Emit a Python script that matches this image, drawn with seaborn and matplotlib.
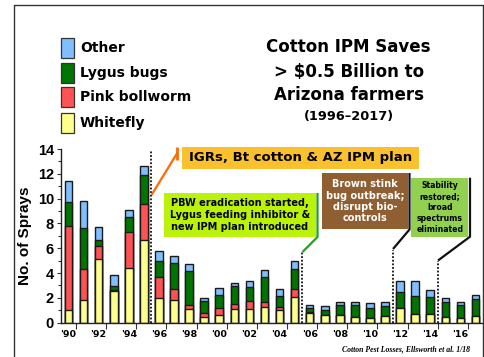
import numpy as np
import pandas as pd
import matplotlib
matplotlib.use("Agg")
import matplotlib.pyplot as plt
from matplotlib.patches import Rectangle
from matplotlib.lines import Line2D
import seaborn as sns

# Sprays per season by target pest, Arizona cotton 1990-2017
years = list(range(1990, 2018))
whitefly = [1.0, 1.8, 5.1, 2.55, 4.4, 6.65, 2.0, 1.8, 1.08, 0.45, 0.65, 1.08, 1.08, 1.3,
            1.0, 2.04, 0.8, 0.65, 0.6, 0.48, 0.4, 0.55, 1.16, 0.67, 0.7, 0.45, 0.4, 0.5]
pink_bollworm = [6.8, 2.5, 1.1, 0.1, 2.9, 2.9, 1.7, 0.95, 0.37, 0.32, 0.56, 0.4, 0.7, 0.4,
                 0.3, 0.68, 0.05, 0.0, 0.0, 0.0, 0.0, 0.0, 0.0, 0.0, 0.0, 0.0, 0.0, 0.0]
lygus = [1.95, 3.3, 0.5, 0.3, 1.25, 2.35, 1.25, 2.1, 2.75, 1.0, 1.0, 1.5, 1.1, 2.0,
         0.86, 1.6, 0.3, 0.4, 0.85, 0.97, 0.8, 0.8, 1.3, 1.48, 1.4, 1.24, 1.0, 1.42]
other = [1.7, 2.2, 1.05, 0.9, 0.5, 0.7, 0.8, 0.55, 0.5, 0.2, 0.6, 0.2, 0.5, 0.55,
         0.57, 0.67, 0.25, 0.3, 0.2, 0.2, 0.35, 0.32, 0.92, 1.24, 0.57, 0.27, 0.24, 0.3]

layer_names = ["Whitefly", "Pink bollworm", "Lygus bugs", "Other"]
layer_colors = ["#FFFF8C", "#FF5252", "#007500", "#80BFFF"]

year_labels = ["'" + str(y)[2:] for y in years]
tick_years = year_labels[::2]

# Vertical markers between seasons: (boundary index, height of marker)
marker_x = [5.5, 15.5, 21.5, 24.5]
marker_top = [13.9, 5.7, 5.85, 5.0]

df = pd.DataFrame({"year": year_labels, "Whitefly": whitefly,
                   "Pink bollworm": pink_bollworm, "Lygus bugs": lygus, "Other": other})
cum = df[layer_names].cumsum(axis=1)

W, H = 485, 357
sns.set_theme(style="white")
plt.rcParams["font.family"] = ["DejaVu Sans"]
plt.rcParams.update({"text.color": "black", "axes.labelcolor": "black",
                     "xtick.color": "black", "ytick.color": "black"})
fig = plt.figure(figsize=(W / 100, H / 100), dpi=100)


def fx(x):
    return x / W


def fy(y):
    return 1 - y / H


ax = fig.add_axes([fx(61), fy(322.7), fx(483) - fx(61), fy(149) - fy(322.7)])

# stacked bars: draw cumulative totals from the top layer down
for name, color in zip(layer_names[::-1], layer_colors[::-1]):
    sns.barplot(x=df["year"], y=cum[name], color=color, saturation=1, width=0.5,
                edgecolor="#1a1a1a", linewidth=1.0, errorbar=None, ax=ax)

ax.set_xlim(-0.5, 27.5)
ax.set_ylim(0, 14)
for s in ["top", "right"]:
    ax.spines[s].set_visible(False)
for s in ["left", "bottom"]:
    ax.spines[s].set_color("#222222")
    ax.spines[s].set_linewidth(1.0)

ax.set_xticks(np.arange(0, 28, 2))
ax.set_xticklabels(tick_years, fontsize=6.8, fontweight="bold")
ax.set_xticks(np.arange(0.5, 28, 2), minor=True)
ax.tick_params(axis="x", which="major", length=0, pad=5)
ax.tick_params(axis="x", which="minor", length=4, width=0.8, color="#333333", direction="out", bottom=True)

ax.set_yticks(np.arange(0, 15, 2))
ax.set_yticklabels([str(v) for v in range(0, 15, 2)], fontsize=10.5, fontweight="bold",
                   family="Liberation Sans")
ax.set_yticks(np.arange(1, 15, 2), minor=True)
ax.tick_params(axis="y", which="major", length=3, width=0.8, color="#333333", pad=2, left=True)
ax.tick_params(axis="y", which="minor", length=2, width=0.8, color="#333333", left=True)
ax.set_xlabel("")
ax.set_ylabel("No. of Sprays", fontsize=11, fontweight="bold", family="Liberation Sans", labelpad=4)

for xm, ym in zip(marker_x, marker_top):
    ax.plot([xm, xm], [0, ym], color="#111111", lw=1.3, ls=(0, (1, 1)), zorder=5)

# outer frame
frame_kw = dict(color="#333333", lw=1.0, transform=fig.transFigure)
fig.add_artist(Line2D([fx(14), fx(14)], [fy(5), 0], **frame_kw))
fig.add_artist(Line2D([fx(14), fx(483.3)], [fy(5), fy(5)], **frame_kw))
fig.add_artist(Line2D([fx(483.3), fx(483.3)], [fy(5), 0], **frame_kw))

# legend
legend_rows = [("Other", "#80BFFF", 48.3), ("Lygus bugs", "#007500", 72.7),
               ("Pink bollworm", "#FF5252", 97.3), ("Whitefly", "#FFFF8C", 122.7)]
for label, color, yc in legend_rows:
    fig.add_artist(Rectangle((fx(61), fy(yc + 10)), fx(13), 20 / H, transform=fig.transFigure,
                             facecolor=color, edgecolor="#333333", lw=0.9))
    fig.text(fx(80), fy(yc), label, fontsize=10, fontweight="bold", va="center", ha="left")

# title
for line, yc in [("Cotton IPM Saves", 46.7), ("> $0.5 Billion to", 71.7), ("Arizona farmers", 95.5)]:
    fig.text(fx(348.7), fy(yc), line, fontsize=12, fontweight="bold", ha="center", va="center")
fig.text(fx(349), fy(116.7), "(1996\u20132017)", fontsize=9.3, fontweight="bold", ha="center", va="center")

# callout boxes


def box(x0, y0, x1, y1, color):
    fig.add_artist(Rectangle((fx(x0), fy(y1)), fx(x1 - x0), (y1 - y0) / H,
                             transform=fig.transFigure, facecolor=color, edgecolor="none", zorder=6))


def polyline(pts, color, lw=1.6):
    fig.add_artist(Line2D([fx(p[0]) for p in pts], [fy(p[1]) for p in pts], color=color, lw=lw,
                          transform=fig.transFigure, zorder=7, solid_capstyle="butt"))


box(182, 147, 419, 168.5, "#FBC02D")
fig.text(fx(300.5), fy(157.8), "IGRs, Bt cotton & AZ IPM plan", fontsize=9.5, fontweight="bold",
         ha="center", va="center", zorder=8)
polyline([(151.5, 195), (177.3, 153)], "#FF6A00")
polyline([(177.3, 147), (177.3, 160)], "#FF6A00", lw=2)

box(164, 193, 316, 237, "#BBF20A")
fig.text(fx(240), fy(215), "PBW eradication started,\nLygus feeding inhibitor &\nnew IPM plan introduced",
         fontsize=7, fontweight="bold", ha="center", va="center", linespacing=1.2, zorder=8)
polyline([(317.5, 193), (317.5, 237), (302.5, 252)], "#23A023")

box(321.7, 173.3, 408.3, 229.3, "#8F5E31")
fig.text(fx(365), fy(201.2), "Brown stink\nbug outbreak;\ndisrupt bio-\ncontrols", color="white",
         fontsize=7, fontweight="bold", ha="center", va="center", linespacing=1.17, zorder=8)
polyline([(409.5, 173), (409.5, 229.5), (393, 249)], "#111111")

box(411, 177.7, 468.3, 236.7, "#92D050")
fig.text(fx(439.7), fy(207.2), "Stability\nrestored;\nbroad\nspectrums\neliminated",
         fontsize=5.6, fontweight="bold", ha="center", va="center", linespacing=1.28, zorder=8)
polyline([(470, 177.7), (470, 236.7), (438, 260.5)], "#111111")

fig.text(fx(470), fy(349), "Cotton Pest Losses, Ellsworth et al. 1/18", family="Liberation Serif",
         style="italic", fontweight="bold", fontsize=5.6, ha="right", va="center")

fig.savefig("out.png", dpi=100)
